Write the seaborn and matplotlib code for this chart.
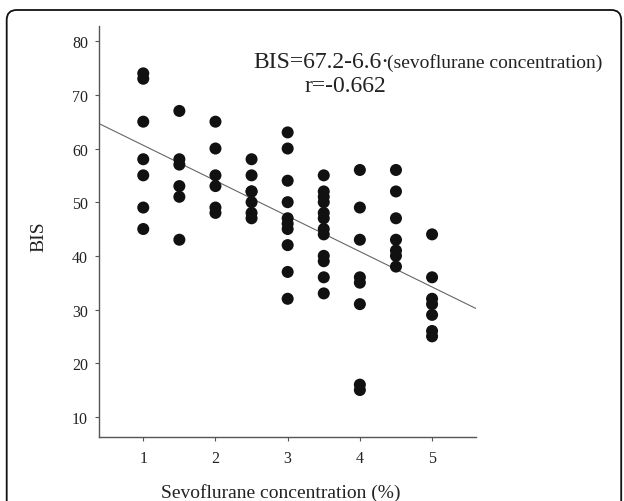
import matplotlib
matplotlib.use("Agg")
import matplotlib.pyplot as plt
import seaborn as sns
import pandas as pd
import numpy as np
from matplotlib.patches import FancyBboxPatch
from matplotlib.transforms import IdentityTransform, offset_copy

# ---- data ----
bis_at_1_0 = [74, 73, 65, 58, 55, 49, 45]
bis_at_1_5 = [67, 58, 57, 53, 51, 43]
bis_at_2_0 = [65, 60, 55, 53, 49, 48]
bis_at_2_5 = [58, 55, 52, 52, 50, 48, 47]
bis_at_3_0 = [63, 60, 54, 50, 47, 46, 45, 42, 37, 32]
bis_at_3_5 = [55, 52, 51, 50, 48, 47, 45, 44, 40, 39, 36, 33]
bis_at_4_0 = [56, 49, 43, 36, 35, 31, 16, 15]
bis_at_4_5 = [56, 52, 47, 43, 41, 40, 38]
bis_at_5_0 = [44, 36, 32, 31, 29, 26, 25]
concentrations = [1.0, 1.5, 2.0, 2.5, 3.0, 3.5, 4.0, 4.5, 5.0]
groups = [bis_at_1_0, bis_at_1_5, bis_at_2_0, bis_at_2_5, bis_at_3_0,
          bis_at_3_5, bis_at_4_0, bis_at_4_5, bis_at_5_0]

intercept = 67.2
slope = -6.6
x_ticks = [1, 2, 3, 4, 5]
y_ticks = [10, 20, 30, 40, 50, 60, 70, 80]

rows = [(c, v) for c, g in zip(concentrations, groups) for v in g]
df = pd.DataFrame(rows, columns=["conc", "bis"])

sns.set_theme(style="ticks")
plt.rcParams["font.family"] = ["Liberation Serif", "DejaVu Serif"]

fig = plt.figure(figsize=(6.24, 5.02), dpi=100)
ax = fig.add_axes([0.159, 0.127, 0.604, 0.820])

sns.scatterplot(data=df, x="conc", y="bis", ax=ax, s=75, color="#111111",
                edgecolor="none", linewidth=0, zorder=3)

xlim = (0.39, 5.61)
ylim = (6.2, 82.9)
lx = np.array(xlim)
ax.plot(lx, intercept + slope * lx, color="#666666", lw=0.8, zorder=2)

ax.set_xlim(*xlim)
ax.set_ylim(*ylim)
ax.set_xticks(x_ticks)
ax.set_yticks(y_ticks)
ax.tick_params(axis="both", labelsize=11.5, length=3, width=0.8,
               color="#555555", labelcolor="#222222")
ax.tick_params(axis="x", pad=6)
ax.tick_params(axis="y", pad=5)
for side in ["top", "right"]:
    ax.spines[side].set_visible(False)
for side in ["left", "bottom"]:
    ax.spines[side].set_color("#555555")
    ax.spines[side].set_linewidth(1.0)

ax.set_xlabel("Sevoflurane concentration (%)", fontsize=14, color="#222222")
ax.set_ylabel("BIS", fontsize=14, color="#222222")
ax.xaxis.set_label_coords(0.482, -0.132)
ax.xaxis.label.set_va("center")
ax.yaxis.set_label_coords(-0.160, 0.489)
ax.yaxis.label.set_va("center")

t1 = ax.text(0.408, 0.900, "BIS=67.2-6.6·", transform=ax.transAxes, fontsize=17,
             va="baseline", ha="left", color="#222222")
fig.canvas.draw()
bb = t1.get_window_extent(renderer=fig.canvas.get_renderer())
x_end_axes = ax.transAxes.inverted().transform((bb.x1 - 2, 0))[0]
ax.text(x_end_axes, 0.900, "(sevoflurane concentration)", transform=ax.transAxes,
        fontsize=14, va="baseline", ha="left", color="#222222")
ax.text(0.654, 0.842, "r=-0.662", transform=ax.transAxes, fontsize=17,
        va="baseline", ha="center", color="#222222")

# rounded frame around the figure (pixel coordinates)
frame = FancyBboxPatch((6.7, -30), 614.5, 491 + 30, boxstyle="round,pad=0,rounding_size=10",
                       transform=IdentityTransform(), fill=False,
                       edgecolor="#111111", linewidth=1.3)
fig.patches.append(frame)

fig.savefig("out.png", dpi=100)
